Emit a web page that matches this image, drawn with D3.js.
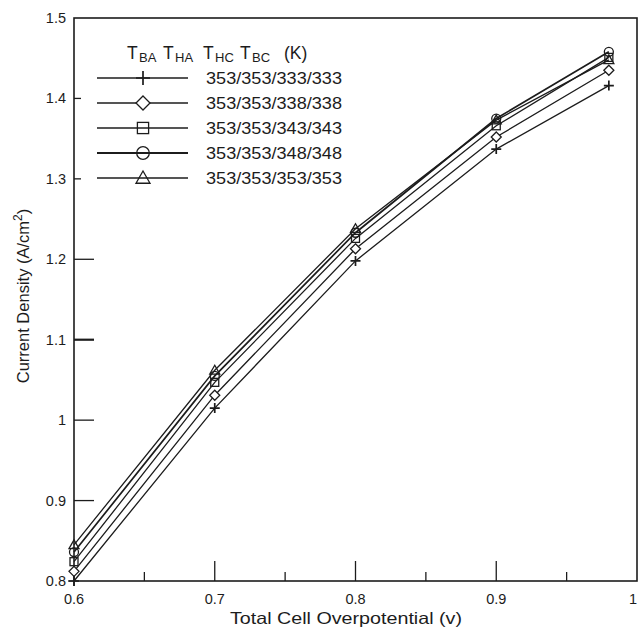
<!DOCTYPE html>
<html>
<head>
<meta charset="utf-8">
<script src="https://cdn.jsdelivr.net/npm/d3@7"></script>
<style>
  html, body { margin: 0; padding: 0; background: #fff; }
  svg { display: block; font-family: "Liberation Sans", Arial, sans-serif; }
</style>
</head>
<body>
<svg id="chart" width="639" height="628"></svg>
<script>
// Overpotential values (V) at which current density was computed
const overpotential = [0.6, 0.7, 0.8, 0.9, 0.98];

// Current density (A/cm2) for each temperature set T_BA/T_HA/T_HC/T_BC (K)
const seriesLabels = ["353/353/333/333", "353/353/338/338", "353/353/343/343", "353/353/348/348", "353/353/353/353"];
const density333 = [0.800, 1.015, 1.198, 1.337, 1.416];
const density338 = [0.812, 1.031, 1.213, 1.352, 1.435];
const density343 = [0.824, 1.047, 1.226, 1.366, 1.451];
const density348 = [0.836, 1.055, 1.233, 1.375, 1.458];
const density353 = [0.845, 1.062, 1.238, 1.373, 1.448];
const markerShapes = ["plus", "diamond", "square", "circle", "triangle"];

// Axis ticks
const xMajorTicks = [0.6, 0.7, 0.8, 0.9, 1.0];
const xMinorTicks = [0.65, 0.75, 0.85, 0.95];
const xTickLabels = ["0.6", "0.7", "0.8", "0.9", "1"];
const yTicks = [0.8, 0.9, 1.0, 1.1, 1.2, 1.3, 1.4, 1.5];
const yTickLabels = ["0.8", "0.9", "1", "1.1", "1.2", "1.3", "1.4", "1.5"];

const allSeries = [density333, density338, density343, density348, density353];

const svg = d3.select("#chart");
const ink = "#1c1c1c";
const plotLeft = 74, plotRight = 637, plotTop = 18, plotBottom = 581;

const x = d3.scaleLinear().domain([0.6, 1.0]).range([plotLeft, plotRight]);
const y = d3.scaleLinear().domain([0.8, 1.5]).range([plotBottom, plotTop]);

// Frame
svg.append("rect")
  .attr("x", plotLeft).attr("y", plotTop)
  .attr("width", plotRight - plotLeft).attr("height", plotBottom - plotTop)
  .attr("fill", "none").attr("stroke", ink).attr("stroke-width", 1.6);

// X ticks (pointing into the plot)
const gx = svg.append("g").attr("stroke", ink).attr("stroke-width", 1.3);
gx.selectAll("line.major").data(xMajorTicks.filter(v => v > 0.6 && v < 1.0)).join("line")
  .attr("class", "major")
  .attr("x1", d => x(d)).attr("x2", d => x(d))
  .attr("y1", plotBottom).attr("y2", plotBottom - 20);
gx.selectAll("line.minor").data(xMinorTicks).join("line")
  .attr("class", "minor")
  .attr("x1", d => x(d)).attr("x2", d => x(d))
  .attr("y1", plotBottom).attr("y2", plotBottom - 9);
// small outward marks at the origin
gx.append("line").attr("x1", x(0.6)).attr("x2", x(0.6)).attr("y1", plotBottom).attr("y2", plotBottom + 5);
gx.append("line").attr("x1", plotLeft - 6).attr("x2", plotLeft).attr("y1", y(0.8)).attr("y2", y(0.8));

// x tick labels; the last one sits at the window edge, so it is pulled in slightly
svg.append("g").selectAll("text").data(xMajorTicks).join("text")
  .attr("x", d => Math.min(x(d), 633)).attr("y", 604)
  .attr("text-anchor", "middle")
  .attr("font-size", 14.5).attr("fill", ink)
  .text((d, i) => xTickLabels[i]);

// Y ticks
const gy = svg.append("g").attr("stroke", ink).attr("stroke-width", 1.3);
gy.selectAll("line").data(yTicks.filter(v => v > 0.8 && v < 1.5)).join("line")
  .attr("x1", plotLeft).attr("x2", d => plotLeft + (d > 1.25 ? 7 : 20))
  .attr("y1", d => y(d)).attr("y2", d => y(d))
  .attr("stroke-width", d => Math.abs(d - 1.1) < 1e-6 ? 2.2 : 1.3);

svg.append("g").selectAll("text").data(yTicks).join("text")
  .attr("x", 66).attr("y", d => y(d) + 5)
  .attr("text-anchor", "end")
  .attr("font-size", 14.5).attr("fill", ink)
  .text((d, i) => yTickLabels[i]);

// Axis titles
svg.append("text")
  .attr("x", 346).attr("y", 624)
  .attr("text-anchor", "middle")
  .attr("font-size", 16.5).attr("fill", ink)
  .attr("textLength", 232).attr("lengthAdjust", "spacingAndGlyphs")
  .text("Total Cell Overpotential (v)");

const yTitle = svg.append("text")
  .attr("transform", "translate(29,296) rotate(-90)")
  .attr("text-anchor", "middle")
  .attr("font-size", 16.5).attr("fill", ink);
yTitle.append("tspan").text("Current Density (A/cm");
yTitle.append("tspan").attr("dy", -7).attr("font-size", 12).text("2");
yTitle.append("tspan").attr("dy", 7).text(")");

// Marker drawing
function drawMarker(g, shape, cx, cy, s) {
  const m = g.append("g").attr("transform", `translate(${cx},${cy})`)
    .attr("stroke", ink).attr("fill", "none").attr("stroke-width", 1.3);
  if (shape === "plus") {
    m.append("path").attr("d", `M${-s},0H${s}M0,${-s}V${s}`).attr("stroke-width", 1.7);
  } else if (shape === "diamond") {
    m.append("path").attr("d", `M0,${-s}L${s},0L0,${s}L${-s},0Z`).attr("fill", "#fff");
  } else if (shape === "square") {
    m.append("rect").attr("x", -s * 0.8).attr("y", -s * 0.8).attr("width", s * 1.6).attr("height", s * 1.6);
  } else if (shape === "circle") {
    m.append("circle").attr("r", s * 0.9);
  } else if (shape === "triangle") {
    m.append("path").attr("d", `M0,${-s}L${s},${s * 0.75}L${-s},${s * 0.75}Z`);
  }
}

// Series lines and markers
const line = d3.line().x((d, i) => x(overpotential[i])).y(d => y(d));
allSeries.forEach((vals, k) => {
  svg.append("path").datum(vals)
    .attr("d", line)
    .attr("fill", "none").attr("stroke", ink)
    .attr("stroke-width", k === 3 ? 1.7 : 1.3);
});
allSeries.forEach((vals, k) => {
  const g = svg.append("g");
  vals.forEach((v, i) => drawMarker(g, markerShapes[k], x(overpotential[i]), y(v), 5));
});

// Legend
const legendTitle = svg.append("text").attr("y", 59).attr("fill", ink);
const titleParts = [["T", 127], ["BA", 139], ["T", 163], ["HA", 175], ["T", 203], ["HC", 215], ["T", 240], ["BC", 252]];
titleParts.forEach(([t, px]) => {
  legendTitle.append("tspan")
    .attr("x", px)
    .attr("y", t === "T" ? 59 : 62)
    .attr("font-size", t === "T" ? 17.5 : 13)
    .text(t);
});
legendTitle.append("tspan").attr("x", 284).attr("y", 59).attr("font-size", 17.5).text("(K)");

seriesLabels.forEach((label, k) => {
  const ly = 78 + k * 25;
  svg.append("line")
    .attr("x1", 97).attr("x2", 188).attr("y1", ly).attr("y2", ly)
    .attr("stroke", ink).attr("stroke-width", k === 3 ? 2 : 1.3);
  drawMarker(svg, markerShapes[k], 143, ly, 7);
  svg.append("text")
    .attr("x", 206).attr("y", ly + 6)
    .attr("font-size", 16.5).attr("fill", ink)
    .attr("textLength", 136).attr("lengthAdjust", "spacingAndGlyphs")
    .text(label);
});
</script>
</body>
</html>
